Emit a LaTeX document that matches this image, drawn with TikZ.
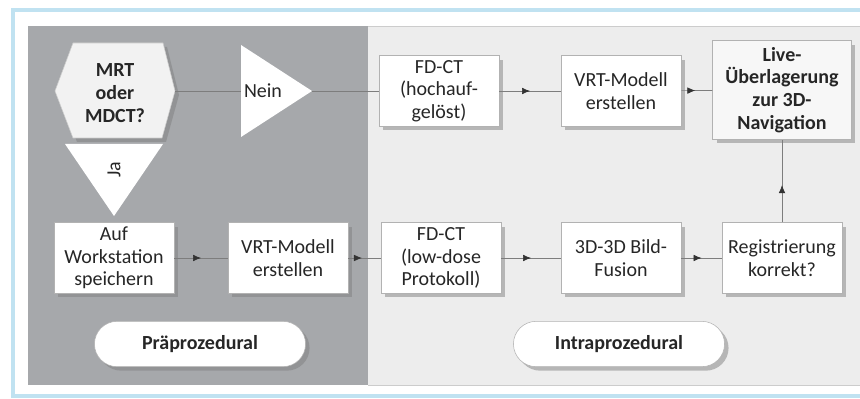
\documentclass[tikz,border=0pt]{standalone}
\usepackage{fontspec}
\setmainfont{Carlito}
\usetikzlibrary{arrows.meta,shapes.misc,shadows,decorations.markings}

\definecolor{praegray}{RGB}{166,168,171}
\definecolor{intragray}{RGB}{237,237,237}
\definecolor{frameblue}{RGB}{192,226,241}
\definecolor{linegray}{RGB}{125,125,125}
\newcommand{\diafont}{\fontsize{15}{17}\selectfont}

\tikzset{
  box/.style={draw=black!30, fill=white, text=black!85, align=center, inner sep=1pt,
    minimum width=90pt, minimum height=53pt,
    drop shadow={shadow xshift=3pt, shadow yshift=-3pt}},
  phase/.style={draw=black!30, fill=white, text=black!85, rounded rectangle, font=\diafont\bfseries,
    minimum width=165pt, minimum height=34pt,
    drop shadow={shadow xshift=3pt, shadow yshift=-3pt}},
  flow/.style={draw=linegray, line width=.5pt},
  midarrow/.style={postaction={decorate}, decoration={markings, mark=at position #1 with {\arrow[black!80]{Latex[length=6pt, width=5pt]}}}},
  midarrow/.default=.5
}

\begin{document}
\begin{tikzpicture}[x=0.75pt, y=-0.75pt, >=latex, font=\diafont]
  \useasboundingbox (0,0) rectangle (860,399);
  \draw[frameblue, line width=3pt] (13,10) rectangle (880,396);
  \fill[intragray] (368,26) rectangle (870,385);
  \draw[black!20] (368,26) -- (870,26) (368,385) -- (870,385);
  \fill[praegray] (28,26) rectangle (368,385);

  % Entscheidung
  \filldraw[fill=black!5, draw=black!20, drop shadow={shadow xshift=3pt, shadow yshift=-3pt}]
    (55,91) -- (73,43) -- (163,43) -- (175,91) -- (162,138) -- (73,138) -- cycle;
  \node[font=\diafont\bfseries, align=center, text=black!85] (frage) at (115,93) {MRT\\oder\\MDCT?};
  \coordinate (frageR) at (175,91);

  \fill[white] (241,45) -- (312,91) -- (241,137) -- cycle;
  \node[text=black!85] (nein) at (263,91) {Nein};
  \coordinate (neinL) at (241,91);
  \coordinate (neinR) at (312,91);

  \fill[white] (65,144) -- (163,144) -- (114,216) -- cycle;
  \node[rotate=90, text=black!85] (ja) at (114,170) {Ja};

  % obere Reihe
  \node[box] (fdhoch) at (439,91) {FD-CT\\(hochauf-\\gelöst)};
  \node[box] (vrtoben) at (621,91) {VRT-Modell\\erstellen};
  \node[box, fill=black!3, font=\diafont\bfseries, minimum width=104pt, minimum height=74pt] (live) at (782,90) {Live-\\Überlagerung\\zur 3D-\\Navigation};

  % untere Reihe
  \node[box] (ws) at (114,258) {Auf\\Workstation\\speichern};
  \node[box] (vrtunten) at (288,258) {VRT-Modell\\erstellen};
  \node[box] (fdlow) at (441,258) {FD-CT\\(low-dose\\Protokoll)};
  \node[box] (fusion) at (621,258) {3D-3D Bild-\\Fusion};
  \node[box] (reg) at (782,258) {Registrierung\\korrekt?};

  \node[phase] (prae) at (200,344) {Präprozedural};
  \node[phase] (intra) at (619,344) {Intraprozedural};

  \draw[flow] (frageR) -- (neinL);
  \draw[flow] (neinR) -- (fdhoch);
  \draw[flow, midarrow] (fdhoch) -- (vrtoben);
  \draw[flow, midarrow=.45] (vrtoben) -- (live);
  \draw[flow, midarrow] (ws) -- (vrtunten);
  \draw[flow, midarrow=.42] (vrtunten) -- (fdlow);
  \draw[flow, midarrow] (fdlow) -- (fusion);
  \draw[flow, midarrow] (fusion) -- (reg);
  \draw[flow, midarrow=.45] (reg) -- (live);
\end{tikzpicture}
\end{document}
